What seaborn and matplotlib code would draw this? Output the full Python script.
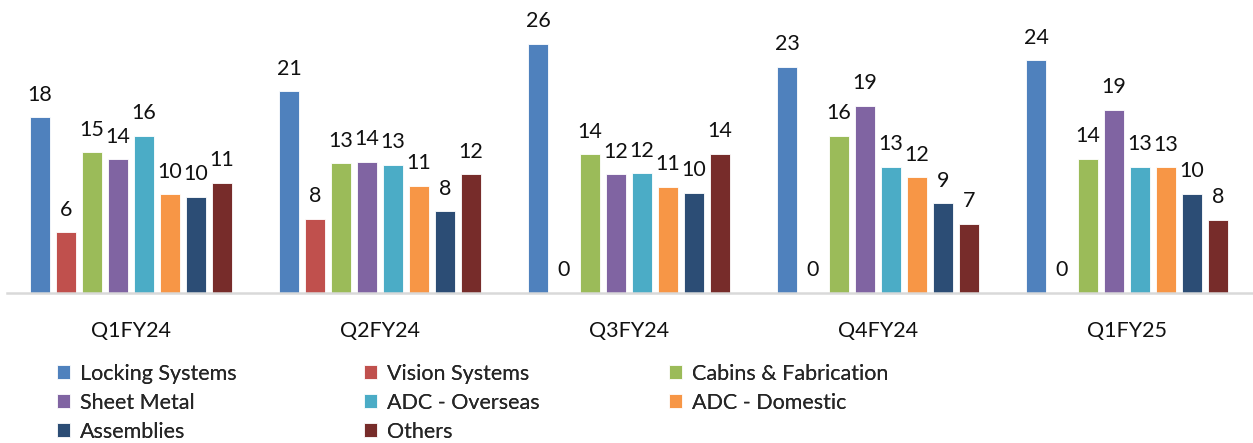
import pandas as pd
import matplotlib.pyplot as plt
import seaborn as sns

quarters = ["Q1FY24", "Q2FY24", "Q3FY24", "Q4FY24", "Q1FY25"]
segments = ["Locking Systems", "Vision Systems", "Cabins & Fabrication", "Sheet Metal",
            "ADC - Overseas", "ADC - Domestic", "Assemblies", "Others"]

# share (%) per segment, one value per quarter
locking = [18.2, 20.9, 25.85, 23.45, 24.1]
vision = [6.3, 7.7, 0, 0, 0]
cabins = [14.6, 13.45, 14.4, 16.3, 13.9]
sheet_metal = [13.85, 13.6, 12.3, 19.4, 19.0]
adc_overseas = [16.3, 13.3, 12.4, 13.1, 13.1]
adc_domestic = [10.25, 11.1, 11.0, 12.0, 13.05]
assemblies = [10.0, 8.45, 10.4, 9.3, 10.3]
others = [11.4, 12.3, 14.45, 7.2, 7.6]

colors = ["#4F81BD", "#C0504D", "#9BBB59", "#8064A2",
          "#4BACC6", "#F79646", "#2C4D75", "#772C2A"]

series = [locking, vision, cabins, sheet_metal, adc_overseas, adc_domestic, assemblies, others]
rows = []
for seg, vals in zip(segments, series):
    for q, v in zip(quarters, vals):
        rows.append({"quarter": q, "segment": seg, "value": v})
df = pd.DataFrame(rows)

sns.set_style("white")
plt.rcParams["font.family"] = ["Lato", "DejaVu Sans"]

fig = plt.figure(figsize=(12.53, 4.43), dpi=100)
ax = fig.add_axes([6.5 / 1253, 1 - 293 / 443, 1245 / 1253, 289.5 / 443])

sns.barplot(data=df, x="quarter", y="value", hue="segment", hue_order=segments,
            order=quarters, palette=colors, width=0.835, gap=0.2,
            edgecolor="white", linewidth=0.6, saturation=1, legend=True, ax=ax)

for cont in ax.containers:
    ax.bar_label(cont, fmt="%.0f", padding=9, fontsize=15.5, color="#111111")

ax.set_ylim(0, 30)
ax.set_xlim(-0.5, 4.5)
ax.set_xlabel("")
ax.set_ylabel("")
ax.set_yticks([])
ax.tick_params(axis="x", length=0, pad=20, labelsize=15.5, labelcolor="#111111")
for s in ["top", "left", "right"]:
    ax.spines[s].set_visible(False)
ax.spines["bottom"].set_color("#D9D9D9")
ax.spines["bottom"].set_linewidth(1.8)

handles, labels = ax.get_legend_handles_labels()
ax.get_legend().remove()

col_x = [57 / 1253, 364 / 1253, 669 / 1253]
col_idx = [[0, 3, 6], [1, 4, 7], [2, 5]]
for x0, idx in zip(col_x, col_idx):
    leg = fig.legend([handles[i] for i in idx], [labels[i] for i in idx],
                     loc="upper left", bbox_to_anchor=(x0, 1 - 364 / 443),
                     frameon=False, fontsize=15.5, handlelength=0.62, handleheight=0.62,
                     handletextpad=0.45, labelspacing=0.41, borderpad=0, borderaxespad=0)
    fig.add_artist(leg)

fig.savefig("out.png", dpi=100)
